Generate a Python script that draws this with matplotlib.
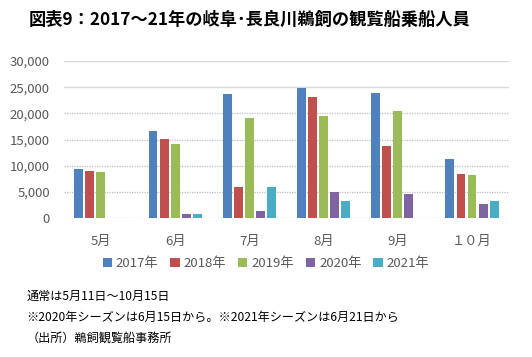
import numpy as np
import matplotlib
matplotlib.use("Agg")
import matplotlib.pyplot as plt
from matplotlib.ticker import FuncFormatter

plt.rcParams['font.family'] = ['Noto Sans CJK JP', 'DejaVu Sans']

# データ（人）
months = ['5月', '6月', '7月', '8月', '9月', '１０月']
years = ['2017年', '2018年', '2019年', '2020年', '2021年']
v2017 = [9400, 16700, 23700, 24900, 23900, 11300]
v2018 = [9000, 15100, 5900, 23200, 13800, 8400]
v2019 = [8800, 14200, 19100, 19500, 20500, 8200]
v2020 = [0, 770, 1340, 4980, 4600, 2700]
v2021 = [0, 770, 5900, 3250, 0, 3250]
colors = ['#4F81BD', '#C0504D', '#9BBB59', '#8064A2', '#4BACC6']

series = [v2017, v2018, v2019, v2020, v2021]

fig = plt.figure(figsize=(5.32, 3.57), dpi=100)
ax = fig.add_axes([0.120, 0.389, 0.837, 0.440])

x = np.arange(len(months))
step = 0.149
w = 0.12
for i, vals in enumerate(series):
    ax.bar(x + (i - 2) * step, vals, w, color=colors[i], label=years[i], zorder=3)

ax.set_xlim(-0.5, len(months) - 0.5)
ax.set_ylim(0, 30000)
ax.set_yticks(range(0, 30001, 5000))
ax.yaxis.set_major_formatter(FuncFormatter(lambda v, p: f'{int(v):,}'))
ax.set_xticks(x)
ax.set_xticklabels(months)

# 目盛線
for yv in range(0, 30001, 5000):
    if yv >= 25000:
        ax.axhline(yv, color='#D9D9D9', lw=1.0, zorder=1)
    else:
        ax.axhline(yv, color='#BFBFBF', lw=0.9, ls=(0, (1, 1)), zorder=1)

for s in ax.spines.values():
    s.set_visible(False)
ax.tick_params(axis='both', length=0, colors='#595959', labelsize=9.5)
ax.tick_params(axis='y', pad=10)
ax.tick_params(axis='x', pad=12)

fig.text(0.053, 0.945, '図表9：2017～21年の岐阜･長良川鵜飼の観覧船乗船人員',
         fontsize=12.4, fontweight='bold', va='center', ha='left')

fig.legend(loc='center', bbox_to_anchor=(0.5, 0.262), ncol=5, frameon=False,
           fontsize=9.5, handlelength=0.7, handleheight=0.7, handletextpad=0.3,
           columnspacing=0.9, labelcolor='#595959')

notes = ['通常は5月11日～10月15日',
         '※2020年シーズンは6月15日から。※2021年シーズンは6月21日から',
         '（出所）鵜飼観覧船事務所']
for k, t in enumerate(notes):
    fig.text(0.050, 0.170 - k * 0.058, t, fontsize=8.7, va='center', ha='left')

fig.savefig('out.png', dpi=100)
